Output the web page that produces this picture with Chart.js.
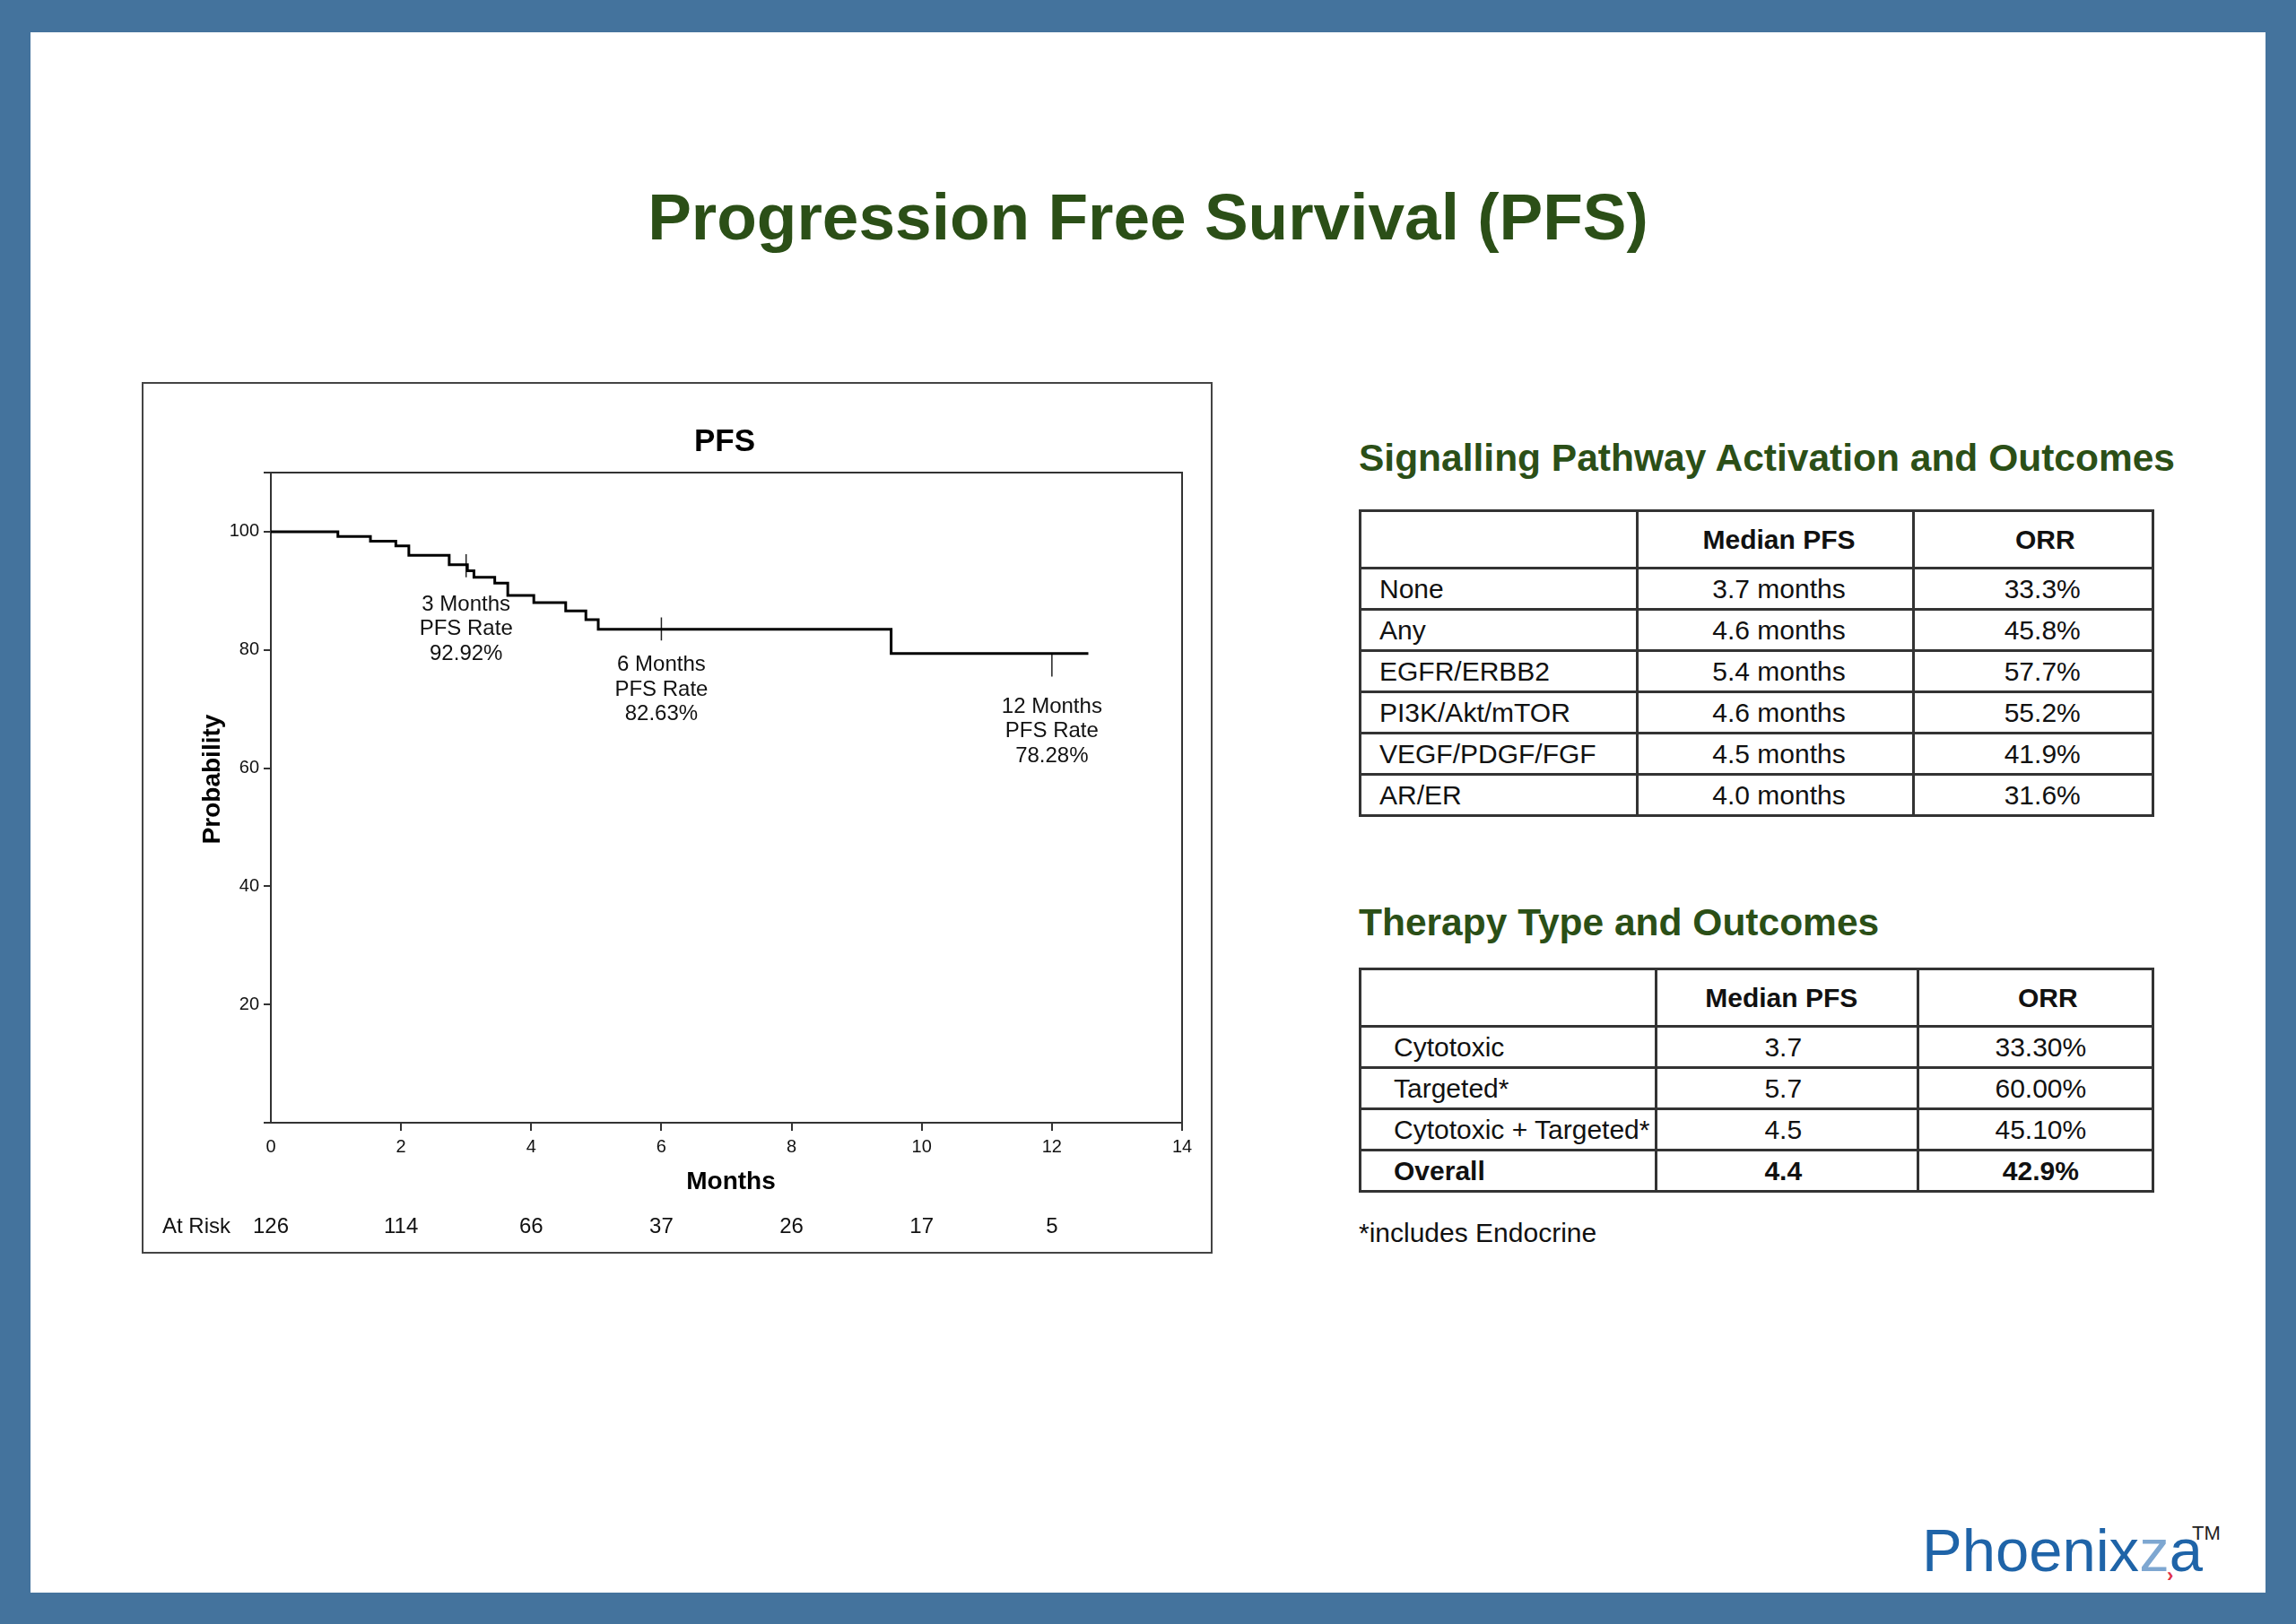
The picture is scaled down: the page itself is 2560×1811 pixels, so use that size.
<!DOCTYPE html>
<html>
<head>
<meta charset="utf-8">
<script src="https://cdn.jsdelivr.net/npm/chart.js@4.4.1/dist/chart.umd.min.js"></script>
<style>
  html, body { margin: 0; padding: 0; }
  body {
    width: 2560px; height: 1811px; position: relative; overflow: hidden;
    background: #44739d; font-family: Arial, "Liberation Sans", sans-serif; color: #111;
  }
  #page { position: absolute; left: 34px; top: 36px; width: 2492px; height: 1740px; background: #fff; }
  .title { position: absolute; left: 0; width: 2560px; top: 206px; text-align: center;
    font-size: 73px; line-height: 72px; font-weight: bold; color: #2b4f17; }
  .heading { position: absolute; left: 1515px; font-size: 42.5px; line-height: 42px; font-weight: bold; color: #2b4f17; white-space: nowrap; }
  #chartBox { position: absolute; left: 158px; top: 426px; width: 1194px; height: 972px;
    box-sizing: border-box; border: 2px solid #444; }
  #chartBox canvas { position: absolute; left: -2px; top: -2px; }
  table { position: absolute; left: 1515px; border-collapse: collapse; font-size: 30px; }
  td, th { border: 3px solid #333; padding: 0; white-space: nowrap; }
  th { font-weight: bold; text-align: center; }
  td { text-align: center; }
  td.name { text-align: left; }
  tr.head { height: 64px; }
  tr.row { height: 46px; }
  tr.bold td { font-weight: bold; }
  #pathwayTable td:nth-child(2), #pathwayTable th:nth-child(2) { padding-left: 8px; }
  #pathwayTable th:nth-child(3) { padding-left: 26px; }
  #pathwayTable td:nth-child(3) { padding-left: 20px; }
  #therapyTable th:nth-child(2) { padding-right: 12px; }
  #therapyTable td:nth-child(2) { padding-right: 8px; }
  #therapyTable th:nth-child(3) { padding-left: 28px; }
  #therapyTable td:nth-child(3) { padding-left: 12px; }
  .note { position: absolute; left: 1515px; top: 1360px; font-size: 30px; line-height: 30px; }
  .logo { position: absolute; left: 2143px; top: 1695px; font-size: 67px; line-height: 67px; color: #1f64a8; white-space: nowrap; }
  .logo .z { color: #7ea7d1; }
  .tm { position: absolute; left: 2444px; top: 1699px; font-size: 22px; line-height: 22px; color: #222; }
  .mark { position: absolute; left: 2416px; top: 1746px; font-size: 22px; line-height: 22px; color: #e0304a; font-weight: bold; }
</style>
</head>
<body>
<div id="page"></div>
<div class="title">Progression Free Survival (PFS)</div>

<div id="chartBox"><canvas id="pfsChart" width="1194" height="972"></canvas></div>

<div class="heading" style="top:490px">Signalling Pathway Activation and Outcomes</div>
<table id="pathwayTable" style="top:568px; width:887px">
  <colgroup><col style="width:309px"><col style="width:310px"><col style="width:268px"></colgroup>
</table>

<div class="heading" style="top:1008px">Therapy Type and Outcomes</div>
<table id="therapyTable" style="top:1079px; width:887px">
  <colgroup><col style="width:330px"><col style="width:293px"><col style="width:264px"></colgroup>
</table>
<div class="note">*includes Endocrine</div>

<div class="logo">Phoenix<span class="z">z</span>a</div>
<div class="tm">TM</div>
<div class="mark">›</div>

<script>
// Kaplan-Meier PFS curve
const pfsMonths = [0, 1.03, 1.53, 1.92, 2.12, 2.74, 3.02, 3.12, 3.44, 3.64, 4.04, 4.53, 4.84, 5.03, 9.53, 12.56];
const pfsProb   = [100, 99.2, 98.4, 97.6, 96.0, 94.4, 93.4, 92.3, 91.3, 89.2, 88.0, 86.6, 85.1, 83.5, 79.4, 79.4];

// PFS rate markers
const rateMonths = [3, 6, 12];
const rateTickTop = [96.2, 85.5, 79.4];
const rateTickBottom = [92.3, 81.6, 75.5];
const rateText = [
  ["3 Months", "PFS Rate", "92.92%"],
  ["6 Months", "PFS Rate", "82.63%"],
  ["12 Months", "PFS Rate", "78.28%"]
];

// number at risk
const atRiskMonths = [0, 2, 4, 6, 8, 10, 12];
const atRisk = [126, 114, 66, 37, 26, 17, 5];

const yTicks = [0, 20, 40, 60, 80, 100, 110];

// tables
const tableHeader = ["", "Median PFS", "ORR"];
const pathways = ["None", "Any", "EGFR/ERBB2", "PI3K/Akt/mTOR", "VEGF/PDGF/FGF", "AR/ER"];
const pathwayPfs = ["3.7 months", "4.6 months", "5.4 months", "4.6 months", "4.5 months", "4.0 months"];
const pathwayOrr = ["33.3%", "45.8%", "57.7%", "55.2%", "41.9%", "31.6%"];

const therapies = ["Cytotoxic", "Targeted*", "Cytotoxic + Targeted*", "Overall"];
const therapyPfs = ["3.7", "5.7", "4.5", "4.4"];
const therapyOrr = ["33.30%", "60.00%", "45.10%", "42.9%"];

function fillTable(id, names, pfs, orr, padLeft, boldLast) {
  const table = document.getElementById(id);
  let html = '<tr class="head">' + tableHeader.map(h => `<th>${h}</th>`).join("") + "</tr>";
  names.forEach((n, i) => {
    const cls = boldLast && i === names.length - 1 ? "row bold" : "row";
    html += `<tr class="${cls}"><td class="name" style="padding-left:${padLeft}px">${n}</td><td>${pfs[i]}</td><td>${orr[i]}</td></tr>`;
  });
  table.insertAdjacentHTML("beforeend", html);
}
fillTable("pathwayTable", pathways, pathwayPfs, pathwayOrr, 20, false);
fillTable("therapyTable", therapies, therapyPfs, therapyOrr, 36, true);

const FONT = "Arial, 'Liberation Sans', sans-serif";

const extras = {
  id: "extras",
  afterDraw(chart) {
    const { ctx, chartArea: a, scales: { x, y } } = chart;
    ctx.save();
    // frame top and right
    ctx.strokeStyle = "#333";
    ctx.lineWidth = 2;
    ctx.beginPath();
    ctx.moveTo(a.left, a.top);
    ctx.lineTo(a.right, a.top);
    ctx.lineTo(a.right, a.bottom);
    ctx.stroke();

    ctx.fillStyle = "#000";
    ctx.textAlign = "center";
    ctx.textBaseline = "middle";

    // chart title
    ctx.font = "bold 35px " + FONT;
    ctx.fillText("PFS", 650, 67);

    // axis titles
    ctx.font = "bold 28px " + FONT;
    ctx.fillText("Months", 657, 892);
    ctx.save();
    ctx.translate(79, 443);
    ctx.rotate(-Math.PI / 2);
    ctx.fillText("Probability", 0, 0);
    ctx.restore();

    // rate labels
    const labelY = [87.7, 77.4, 70.4];
    ctx.font = "24px " + FONT;
    ctx.fillStyle = "#111";
    rateText.forEach((lines, i) => {
      const px = x.getPixelForValue(rateMonths[i]);
      const py = y.getPixelForValue(labelY[i]);
      lines.forEach((t, j) => ctx.fillText(t, px, py + j * 27.5));
    });

    // at risk row
    ctx.font = "24px " + FONT;
    ctx.textAlign = "left";
    ctx.fillText("At Risk", 23, 942);
    ctx.textAlign = "center";
    atRisk.forEach((n, i) => ctx.fillText(String(n), x.getPixelForValue(atRiskMonths[i]), 942));
    ctx.restore();
  }
};

const datasets = [{
  label: "PFS",
  data: pfsMonths.map((m, i) => ({ x: m, y: pfsProb[i] })),
  stepped: true,
  borderColor: "#000",
  borderWidth: 3,
  pointRadius: 0,
  fill: false
}];
rateMonths.forEach((m, i) => {
  datasets.push({
    label: "rate" + m,
    data: [{ x: m, y: rateTickTop[i] }, { x: m, y: rateTickBottom[i] }],
    borderColor: "#222",
    borderWidth: 1.5,
    pointRadius: 0,
    fill: false
  });
});

new Chart(document.getElementById("pfsChart"), {
  type: "line",
  data: { datasets },
  plugins: [extras],
  options: {
    responsive: false,
    animation: false,
    devicePixelRatio: 1,
    layout: { padding: { left: 0, top: 101, right: 34, bottom: 0 } },
    plugins: { legend: { display: false }, tooltip: { enabled: false } },
    scales: {
      x: {
        type: "linear",
        min: 0,
        max: 14,
        ticks: { stepSize: 2, color: "#111", padding: 6, font: { size: 20, family: FONT } },
        grid: {
          drawOnChartArea: false, tickLength: 9, lineWidth: 2,
          color: ctx => (ctx.tick && ctx.tick.value === 0 ? "rgba(0,0,0,0)" : "#333")
        },
        border: { color: "#333", width: 2 },
        afterFit: s => { s.height = 146; }
      },
      y: {
        type: "linear",
        min: 0,
        max: 110,
        afterBuildTicks: s => { s.ticks = yTicks.map(v => ({ value: v })); },
        ticks: {
          color: "#111", padding: 5, font: { size: 20, family: FONT },
          callback: v => (v === 0 || v === 110 ? "" : v)
        },
        grid: { drawOnChartArea: false, tickLength: 8, lineWidth: 2, color: "#333" },
        border: { color: "#333", width: 2 },
        afterFit: s => { s.width = 144; }
      }
    }
  }
});
</script>
</body>
</html>
